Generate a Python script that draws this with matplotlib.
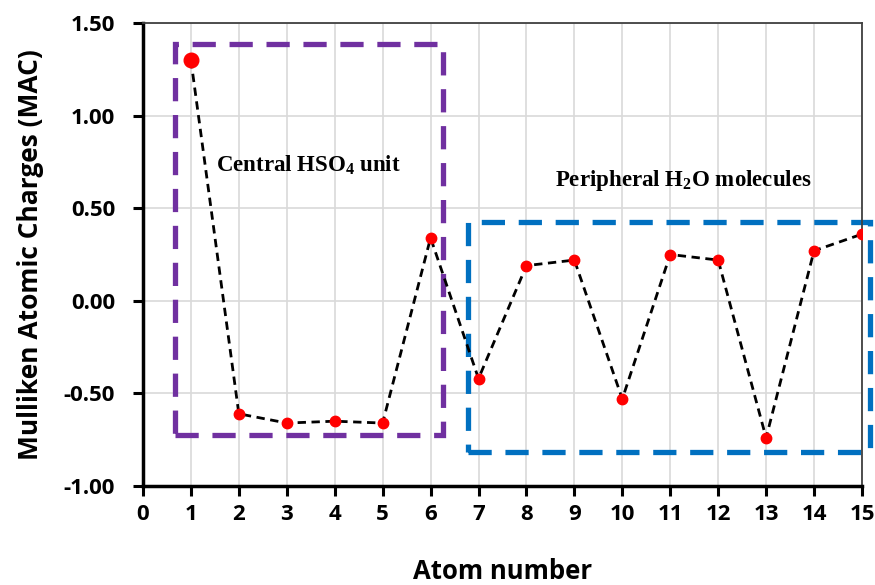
import matplotlib
matplotlib.use("Agg")
import matplotlib.pyplot as plt
from matplotlib.patches import Rectangle

atom_number = [1, 2, 3, 4, 5, 6, 7, 8, 9, 10, 11, 12, 13, 14, 15]
mac_charge = [1.30, -0.61, -0.66, -0.65, -0.66, 0.34, -0.42, 0.19, 0.22,
              -0.53, 0.25, 0.22, -0.74, 0.27, 0.36]
x_ticks = list(range(0, 16))
y_ticks = [-1.0, -0.5, 0.0, 0.5, 1.0, 1.5]
y_tick_labels = ["-1.00", "-0.50", "0.00", "0.50", "1.00", "1.50"]

# grouping boxes (data coordinates: x0, y0, x1, y1)
central_box = (0.67, -0.725, 6.26, 1.387)
peripheral_box = (6.78, -0.815, 15.17, 0.425)

plt.rcParams['mathtext.fontset'] = 'custom'
plt.rcParams['mathtext.rm'] = 'Liberation Serif:bold'
plt.rcParams['mathtext.it'] = 'Liberation Serif:bold'
plt.rcParams['mathtext.bf'] = 'Liberation Serif:bold'

fig = plt.figure(figsize=(8.75, 5.85), dpi=100)
ax = fig.add_axes([0.1634, 0.1692, 0.8217, 0.7915])

ax.set_xlim(0, 15)
ax.set_ylim(-1.0, 1.5)
ax.set_xticks(x_ticks)
ax.set_yticks(y_ticks)
ax.set_yticklabels(y_tick_labels)
ax.grid(True, color='#d9d9d9', linewidth=1.2, zorder=0)
ax.set_axisbelow(True)

ax.plot(atom_number, mac_charge, linestyle=(0, (3, 2)), color='black',
        linewidth=2.0, zorder=3)
ax.plot(atom_number[1:], mac_charge[1:], linestyle='none', marker='o',
        markersize=7.5, color='#ff0000', zorder=4)
ax.plot(atom_number[:1], mac_charge[:1], linestyle='none', marker='o',
        markersize=10.5, color='#ff0000', zorder=4)

for (x0, y0, x1, y1), col in [(central_box, '#7030a0'), (peripheral_box, '#0070c0')]:
    r = Rectangle((x0, y0), x1 - x0, y1 - y0, fill=False, edgecolor=col,
                  linewidth=3.8, linestyle=(0, (4.4, 2.6)), clip_on=False, zorder=2)
    ax.add_patch(r)

ax.text(3.46, 0.73, r"Central HSO$_4$ unit", family='Liberation Serif',
        fontweight='bold', fontsize=16.5, ha='center', va='center')
ax.text(11.27, 0.65, r"Peripheral H$_2$O molecules", family='Liberation Serif',
        fontweight='bold', fontsize=16.5, ha='center', va='center')

for s in ['left', 'bottom']:
    ax.spines[s].set_color('black')
    ax.spines[s].set_linewidth(2.5)
for s in ['top', 'right']:
    ax.spines[s].set_color('#404040')
    ax.spines[s].set_linewidth(1.3)

ax.tick_params(axis='both', direction='out', length=7, width=2.2, color='black')
ax.tick_params(axis='x', top=False, pad=6)
ax.tick_params(axis='y', right=False, pad=13)
for lab in ax.get_xticklabels() + ax.get_yticklabels():
    lab.set_fontfamily('Open Sans')
    lab.set_fontweight('bold')
    lab.set_fontsize(16)

ax.set_xlabel("Atom number", family='Open Sans', fontweight='bold',
              fontsize=18.5, labelpad=24)
ax.set_ylabel("Mulliken Atomic Charges (MAC)", family='Open Sans',
              fontweight='bold', fontsize=19, labelpad=14)

fig.savefig("out.png", dpi=100)
